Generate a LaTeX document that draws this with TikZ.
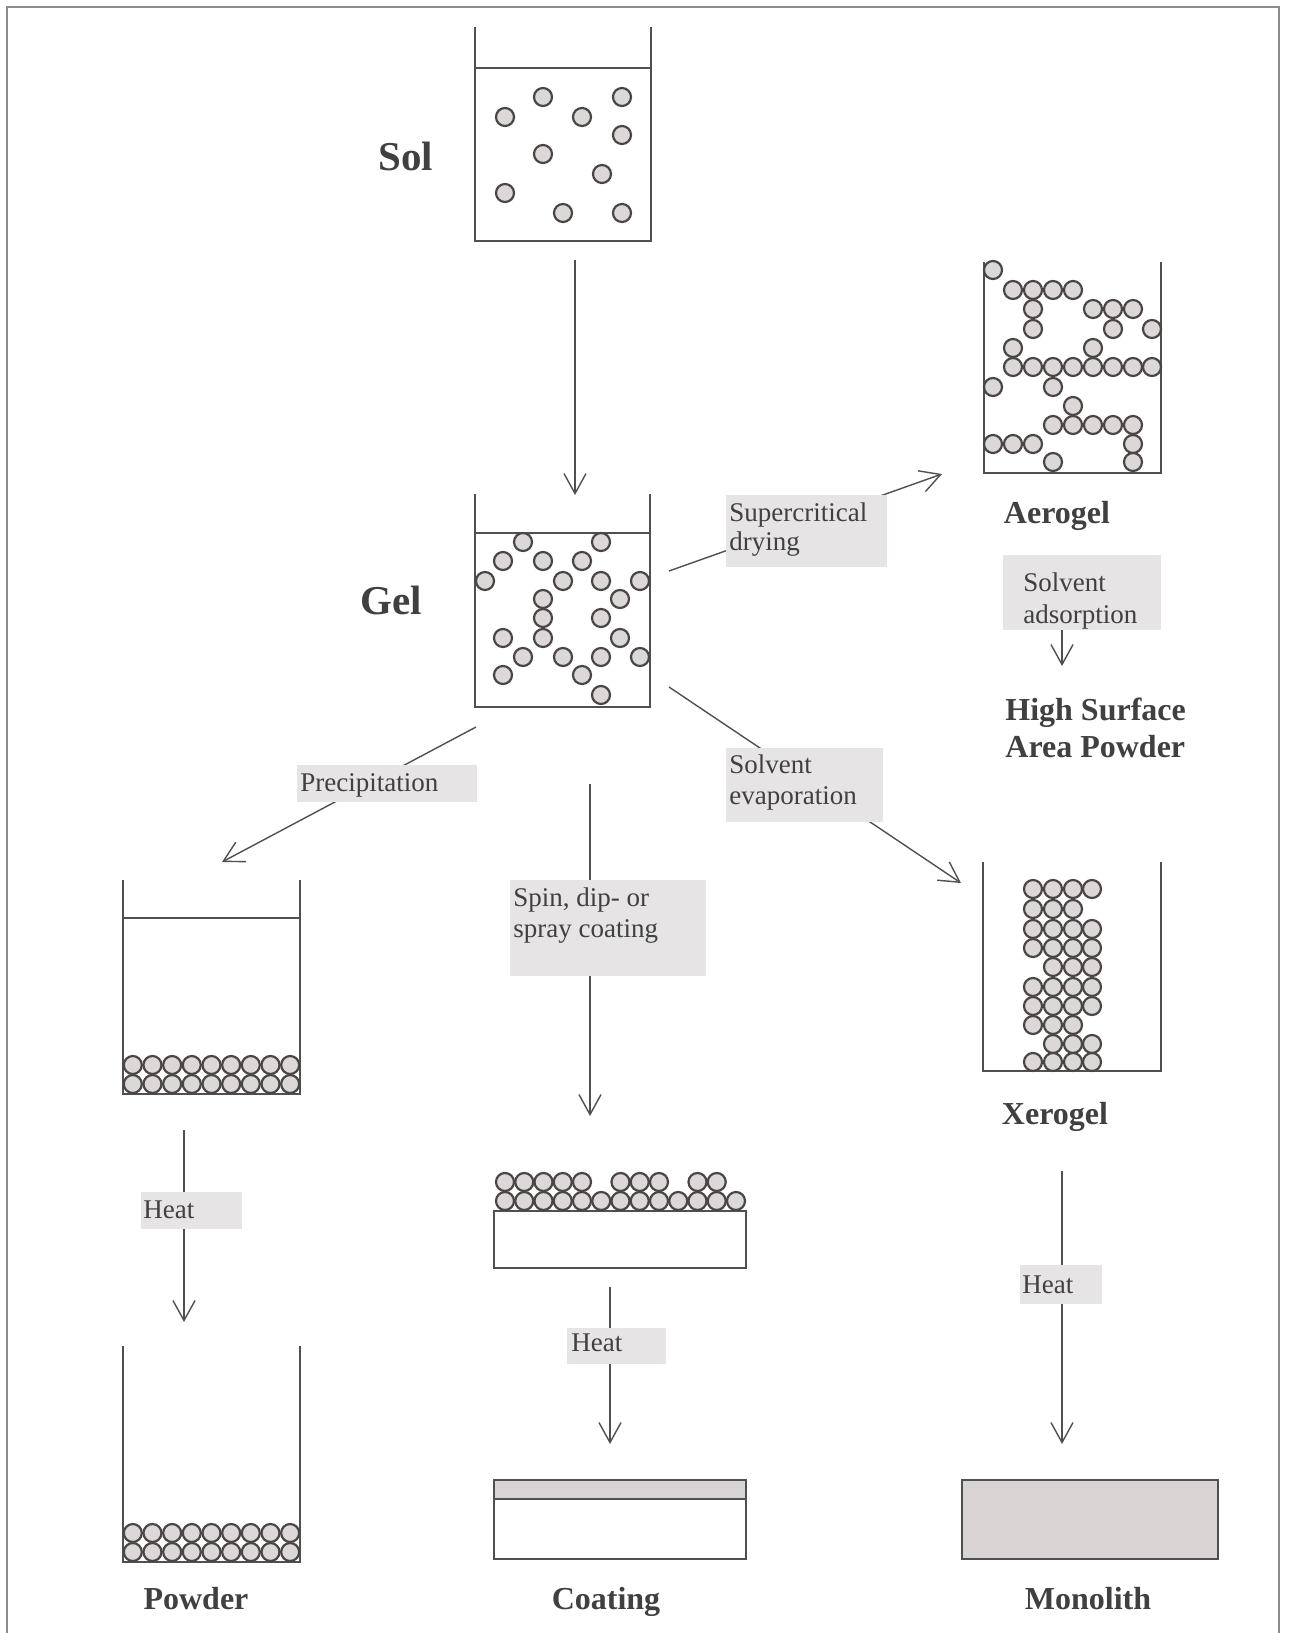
\documentclass[tikz,border=0pt]{standalone}
\usepackage{fontspec}
\setmainfont{Liberation Serif}
\usetikzlibrary{arrows.meta}
\definecolor{linecol}{HTML}{505050}
\definecolor{ptfill}{HTML}{DCD8D8}
\definecolor{ptdraw}{HTML}{4A4646}
\definecolor{boxfill}{HTML}{E6E4E4}
\definecolor{framecol}{HTML}{8C8C8C}
\definecolor{txtcol}{HTML}{404040}
\definecolor{solidfill}{HTML}{D8D4D4}
\begin{document}
\begin{tikzpicture}[x=0.5pt,y=-0.5pt,
  beaker/.style={draw=linecol,line width=1pt},
  liquid/.style={draw=linecol,line width=0.7pt},
  ptc/.style={draw=ptdraw,fill=ptfill,line width=1.1pt},
  arr/.style={draw=linecol,line width=0.7pt,-{Straight Barb[length=10pt,width=11pt]}},
  lbox/.style={fill=boxfill,draw=none,inner sep=0pt,anchor=north west},
  ltxt/.style={font=\fontsize{13.5}{15.5}\selectfont,text=txtcol,inner sep=0pt,anchor=base west},
  ttl/.style={font=\bfseries\fontsize{16}{18}\selectfont,text=txtcol,inner sep=0pt,anchor=base},
  bigttl/.style={font=\bfseries\fontsize{20.5}{23}\selectfont,text=txtcol,inner sep=0pt,anchor=base}]

\useasboundingbox (0,0) rectangle (1289,1633);
\fill[white] (0,0) rectangle (1289,1633);
\draw[framecol,line width=1.3pt] (7,1633) -- (7,7) -- (1279,7) -- (1279,1633);

% ---------- beakers ----------
% Sol
\draw[beaker] (475,27) -- (475,241) -- (651,241) -- (651,27);
\draw[liquid] (475,68) -- (651,68);
\foreach \x/\y in {543/97,622/97,505/117,582/117,622/135,543/154,602/174,505/193,563/213,622/213}
  \filldraw[ptc] (\x,\y) circle[radius=9];
% Gel
\draw[beaker] (475,494) -- (475,707) -- (650,707) -- (650,494);
\draw[liquid] (475,533) -- (650,533);
\foreach \x/\y in {523/542,601/542,503/561,543/561,582/561,485/581,563/581,601/581,640/581,
  543/599,620/599,543/618,601/618,503/638,543/638,620/638,523/657,563/657,601/657,640/657,
  503/675,582/675,601/695}
  \filldraw[ptc] (\x,\y) circle[radius=9];
% Aerogel
\draw[beaker] (984,262) -- (984,473) -- (1161,473) -- (1161,262);
\foreach \x/\y in {993/270,
  1013/290,1033/290,1053/290,1073/290,
  1033/309,1093/309,1113/309,1133/309,
  1033/329,1113/329,1152/329,
  1013/348,1093/348,
  1013/367,1033/367,1053/367,1073/367,1093/367,1113/367,1133/367,1152/367,
  993/387,1053/387,
  1073/406,
  1053/425,1073/425,1093/425,1113/425,1133/425,
  993/444,1013/444,1033/444,1133/444,
  1053/462,1133/462}
  \filldraw[ptc] (\x,\y) circle[radius=9];
% Xerogel
\draw[beaker] (983,862) -- (983,1071) -- (1161,1071) -- (1161,862);
\foreach \y/\cols in {889/{1033,1053,1073,1092},909/{1033,1053,1073},929/{1033,1053,1073,1092},
  948/{1033,1053,1073,1092},967/{1053,1073,1092},987/{1033,1053,1073,1092},
  1006/{1033,1053,1073,1092},1025/{1033,1053,1073},1044/{1053,1073,1092},
  1062/{1033,1053,1073,1092}}
  \foreach \x in \cols
    \filldraw[ptc] (\x,\y) circle[radius=9];
% Powder (intermediate)
\draw[beaker] (123,880) -- (123,1094) -- (300,1094) -- (300,880);
\draw[liquid] (123,918) -- (300,918);
\foreach \i in {0,...,8}
  \foreach \y in {1065,1084}
    \filldraw[ptc] ({132.8+19.67*\i},\y) circle[radius=9];
% Powder (final)
\draw[beaker] (123,1346) -- (123,1562) -- (300,1562) -- (300,1346);
\foreach \i in {0,...,8}
  \foreach \y in {1533,1552}
    \filldraw[ptc] ({132.8+19.67*\i},\y) circle[radius=9];
% Coating (intermediate)
\draw[beaker] (494,1211) rectangle (746,1268);
\foreach \i in {0,...,12}
  \filldraw[ptc] ({505+19.25*\i},1201) circle[radius=9];
\foreach \i in {0,1,2,3,4,6,7,8,10,11}
  \filldraw[ptc] ({505+19.25*\i},1182) circle[radius=9];
% Coating (final)
\filldraw[beaker,fill=solidfill] (494,1480) rectangle (746,1499);
\draw[beaker] (494,1499) rectangle (746,1559);
% Monolith
\filldraw[beaker,fill=solidfill] (962,1480) rectangle (1218,1559);

% ---------- connector end points ----------
\coordinate (solB) at (575,260);
\coordinate (gelT) at (575,495);
\coordinate (gelR) at (669,571);
\coordinate (aeroL) at (942,474);
\coordinate (gelBL) at (476,727);
\coordinate (powT) at (222,862);
\coordinate (gelB) at (590,784);
\coordinate (coatT) at (590,1116);
\coordinate (gelBR) at (669,687);
\coordinate (xeroL) at (961,883);
\coordinate (aeroB) at (1062,600);
\coordinate (hsaT) at (1062,666);
\coordinate (pow1B) at (184,1130);
\coordinate (pow2T) at (184,1322);
\coordinate (coat1B) at (610,1287);
\coordinate (coat2T) at (610,1444);
\coordinate (xeroB) at (1062,1171);
\coordinate (monoT) at (1062,1444);

\draw[arr] (solB) -- (gelT);
\draw[arr] (gelR) -- (aeroL);
\draw[arr] (gelBL) -- (powT);
\draw[arr] (gelB) -- (coatT);
\draw[arr] (gelBR) -- (xeroL);
\draw[arr] (aeroB) -- (hsaT);
\draw[arr] (pow1B) -- (pow2T);
\draw[arr] (coat1B) -- (coat2T);
\draw[arr] (xeroB) -- (monoT);

% ---------- label boxes ----------
\node[lbox,minimum width=80.5pt,minimum height=36pt] (bSC) at (726,495) {};
\node[lbox,minimum width=79pt,minimum height=37.5pt] (bSA) at (1003,555) {};
\node[lbox,minimum width=90pt,minimum height=18.5pt] (bPR) at (297,765) {};
\node[lbox,minimum width=78.5pt,minimum height=37pt] (bSE) at (726,748) {};
\node[lbox,minimum width=98pt,minimum height=48pt] (bSP) at (510,880) {};
\node[lbox,minimum width=50.5pt,minimum height=18.5pt] (bH1) at (141,1192) {};
\node[lbox,minimum width=49.5pt,minimum height=18pt] (bH2) at (567,1328) {};
\node[lbox,minimum width=41pt,minimum height=19.5pt] (bH3) at (1020,1265) {};

\node[ltxt] (tSC1) at (729,521) {Supercritical};
\node[ltxt] (tSC2) at (729,550) {drying};
\node[ltxt] (tSA1) at (1023,591) {Solvent};
\node[ltxt] (tSA2) at (1023,623) {adsorption};
\node[ltxt] (tPR) at (300,791) {Precipitation};
\node[ltxt] (tSE1) at (729,773) {Solvent};
\node[ltxt] (tSE2) at (729,804) {evaporation};
\node[ltxt] (tSP1) at (513,906) {Spin, dip- or};
\node[ltxt] (tSP2) at (513,937) {spray coating};
\node[ltxt] (tH1) at (143,1218) {Heat};
\node[ltxt] (tH2) at (571,1351) {Heat};
\node[ltxt] (tH3) at (1022,1293) {Heat};

% ---------- titles ----------
\node[bigttl] (sol) at (406,170) {Sol};
\node[bigttl] (gel) at (391,614) {Gel};
\node[ttl] (aero) at (1057,523) {Aerogel};
\node[ttl,anchor=base west] (hsa1) at (1005,720) {High Surface};
\node[ttl,anchor=base west] (hsa2) at (1005,757) {Area Powder};
\node[ttl] (xero) at (1055,1124) {Xerogel};
\node[ttl] (powder) at (196,1609) {Powder};
\node[ttl] (coating) at (606,1609) {Coating};
\node[ttl] (mono) at (1088,1609) {Monolith};
\end{tikzpicture}
\end{document}
